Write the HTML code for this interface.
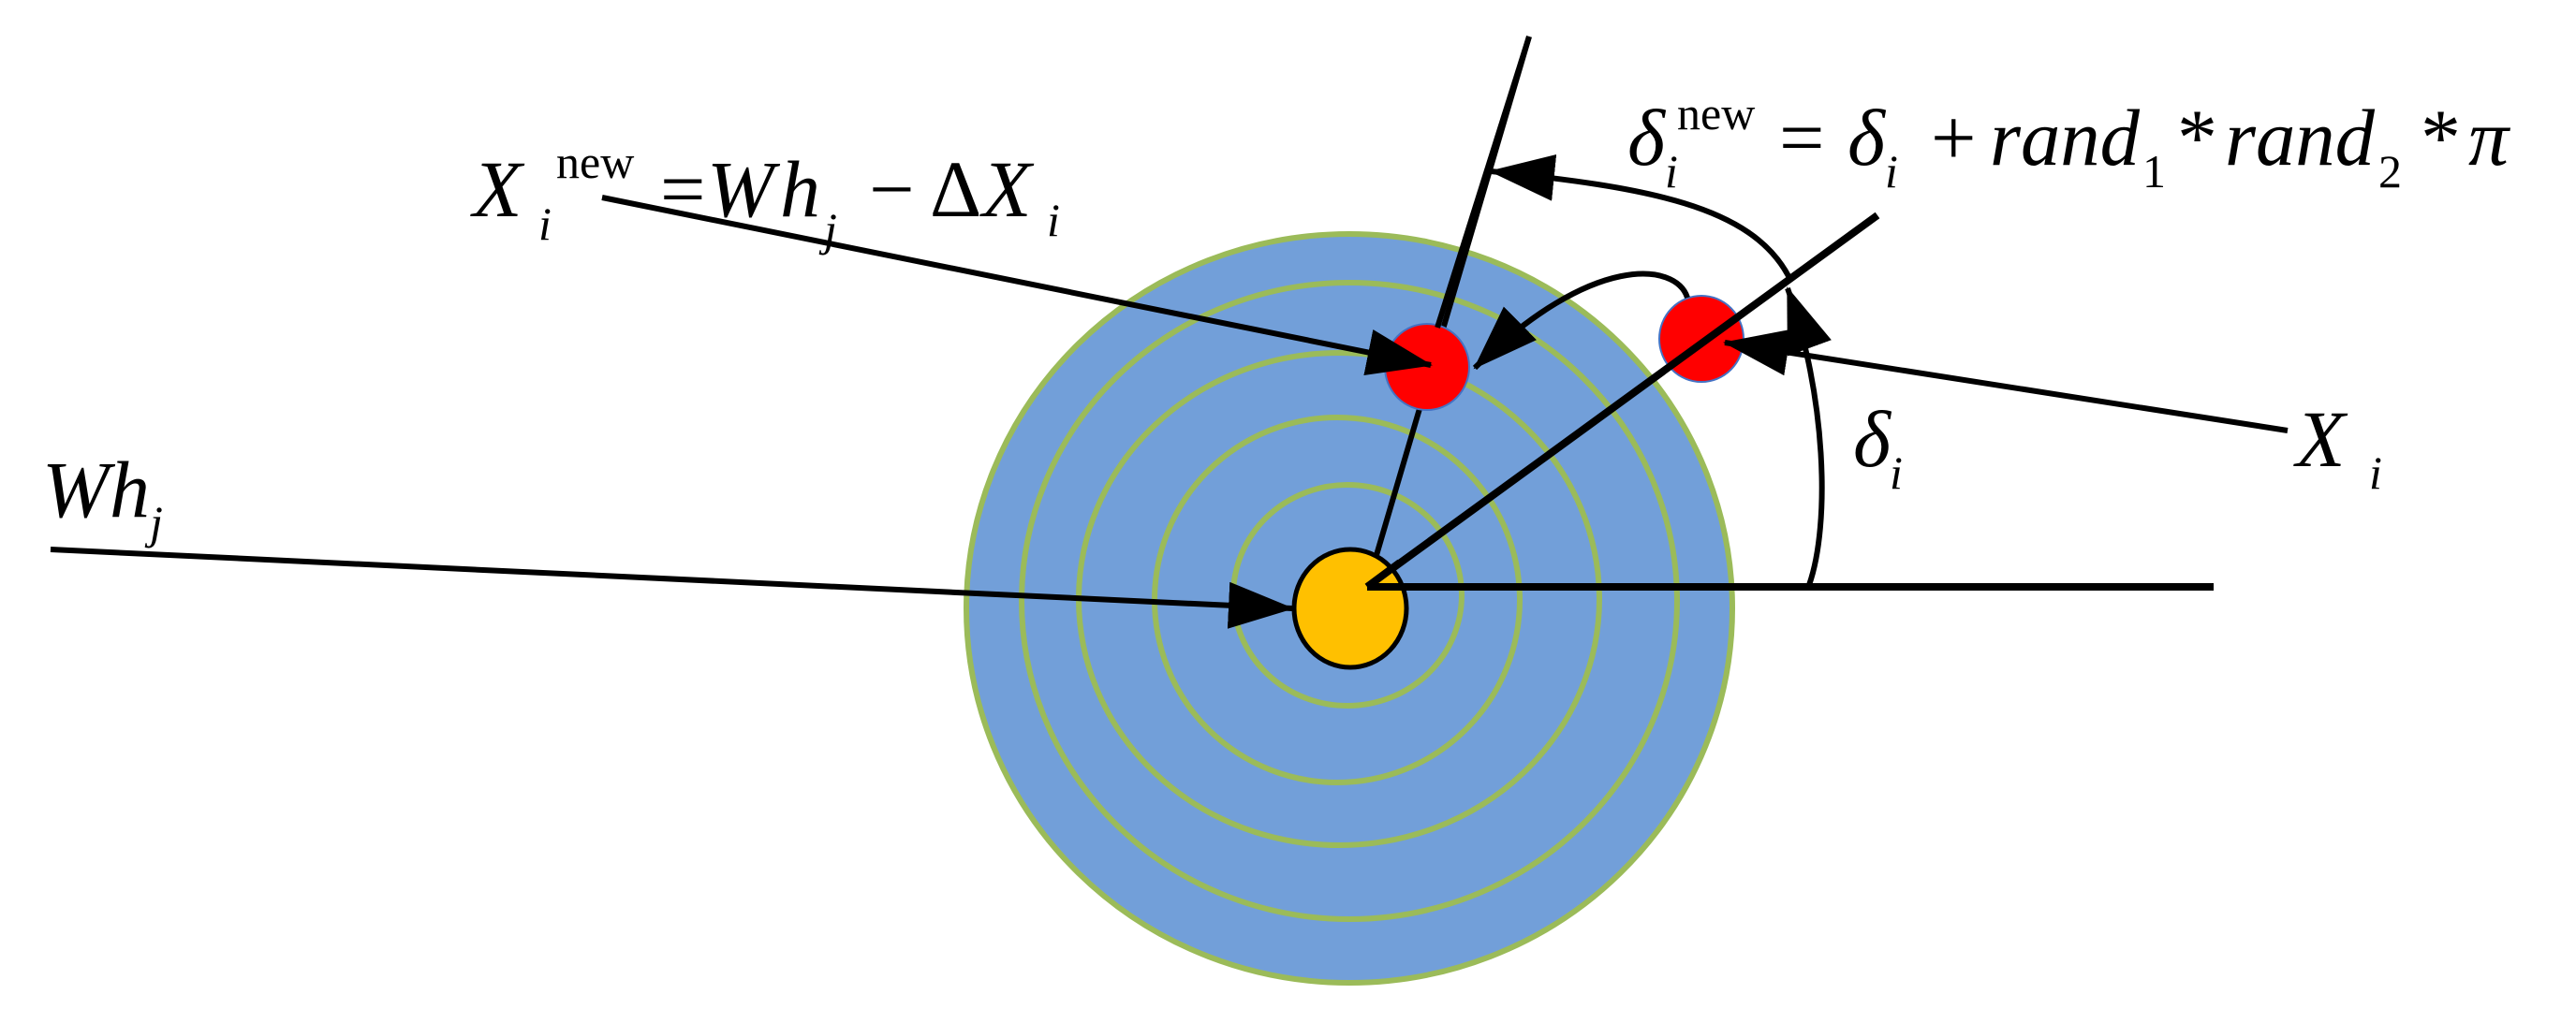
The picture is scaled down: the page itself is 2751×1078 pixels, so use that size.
<!DOCTYPE html>
<html><head><meta charset="utf-8"><style>
html,body{margin:0;padding:0;background:#fff;}
svg{display:block;}
text{font-family:"Liberation Serif",serif;fill:#000;}
.it{font-style:italic;}
</style></head><body>
<svg width="2751" height="1078" viewBox="0 0 2751 1078" xmlns="http://www.w3.org/2000/svg">
<defs>
<marker id="ah" markerUnits="userSpaceOnUse" markerWidth="80" markerHeight="56" refX="68" refY="25" orient="auto">
<path d="M0,0 L70,25 L0,50 Z" fill="#000"/>
</marker>
</defs>
<ellipse cx="1441" cy="650" rx="409" ry="400" fill="#729FD9" stroke="#9BBB59" stroke-width="6"/>
<g fill="none" stroke="#9BBB59" stroke-width="6">
<ellipse cx="1441" cy="642" rx="350" ry="340"/>
<ellipse cx="1430" cy="640" rx="278" ry="263"/>
<ellipse cx="1428" cy="641" rx="195" ry="195"/>
<ellipse cx="1439" cy="636" rx="122" ry="118"/>
</g>
<line x1="1460" y1="627" x2="2364" y2="627" stroke="#000" stroke-width="8"/>
<line x1="1460" y1="627" x2="1633" y2="39" stroke="#000" stroke-width="6"/>
<ellipse cx="1524" cy="392" rx="45" ry="46" fill="#FF0000" stroke="#4472C4" stroke-width="2"/>
<ellipse cx="1817" cy="362" rx="45" ry="46" fill="#FF0000" stroke="#4472C4" stroke-width="2"/>
<line x1="1460" y1="627" x2="2005" y2="230" stroke="#000" stroke-width="8"/>
<line x1="1535" y1="350" x2="1633" y2="39" stroke="#000" stroke-width="6"/>
<ellipse cx="1442" cy="650" rx="60" ry="63" fill="#FFC000" stroke="#000" stroke-width="5"/>
<line x1="1460" y1="627" x2="1500" y2="627" stroke="#000" stroke-width="8"/>
<line x1="1460" y1="627" x2="1495" y2="601" stroke="#000" stroke-width="8"/>
<g fill="none" stroke="#000" stroke-width="6" marker-end="url(#ah)">
<line x1="54" y1="587" x2="1380" y2="650"/>
<line x1="643" y1="211" x2="1528" y2="390"/>
<line x1="2443" y1="460" x2="1842" y2="366"/>
<path d="M1802,318 C1790,280 1700,270 1575,393"/>
<path d="M1932,625 C1955,560 1950,420 1909,308"/>
<path d="M1910,295 C1870,220 1760,200 1592,183"/>
</g>
<g class="it" font-size="86">
<text x="45" y="552" class="it">W</text>
<text x="117" y="552" class="it">h</text>
<text x="160" y="575" font-size="50" class="it">j</text>

<text x="505" y="231" class="it">X</text>
<text x="575" y="256" font-size="50" class="it">i</text>
<text x="594" y="190" font-size="50" style="font-style:normal">new</text>
<text x="705" y="231" style="font-style:normal">=</text>
<text x="755" y="231" class="it">W</text>
<text x="833" y="231" class="it">h</text>
<text x="880" y="262" font-size="50" class="it">j</text>
<text x="928" y="231" style="font-style:normal">−</text>
<text x="993" y="231" style="font-style:normal">Δ</text>
<text x="1049" y="231" class="it">X</text>
<text x="1118" y="252" font-size="50" class="it">i</text>

<text x="1738" y="176" class="it">δ</text>
<text x="1778" y="200" font-size="50" class="it">i</text>
<text x="1791" y="138" font-size="50" style="font-style:normal">new</text>
<text x="1900" y="176" style="font-style:normal">=</text>
<text x="1973" y="176" class="it">δ</text>
<text x="2013" y="200" font-size="50" class="it">i</text>
<text x="2062" y="176" style="font-style:normal">+</text>
<text x="2125" y="176" class="it" textLength="160" lengthAdjust="spacingAndGlyphs">rand</text>
<text x="2288" y="200" font-size="50" style="font-style:normal">1</text>
<text x="2325" y="176" style="font-style:normal">*</text>
<text x="2376" y="176" class="it" textLength="160" lengthAdjust="spacingAndGlyphs">rand</text>
<text x="2540" y="200" font-size="50" style="font-style:normal">2</text>
<text x="2585" y="176" style="font-style:normal">*</text>
<text x="2636" y="176" class="it">π</text>

<text x="1979" y="498" class="it">δ</text>
<text x="2018" y="522" font-size="50" class="it">i</text>

<text x="2452" y="498" class="it">X</text>
<text x="2530" y="522" font-size="50" class="it">i</text>
</g>
</svg>
</body></html>
